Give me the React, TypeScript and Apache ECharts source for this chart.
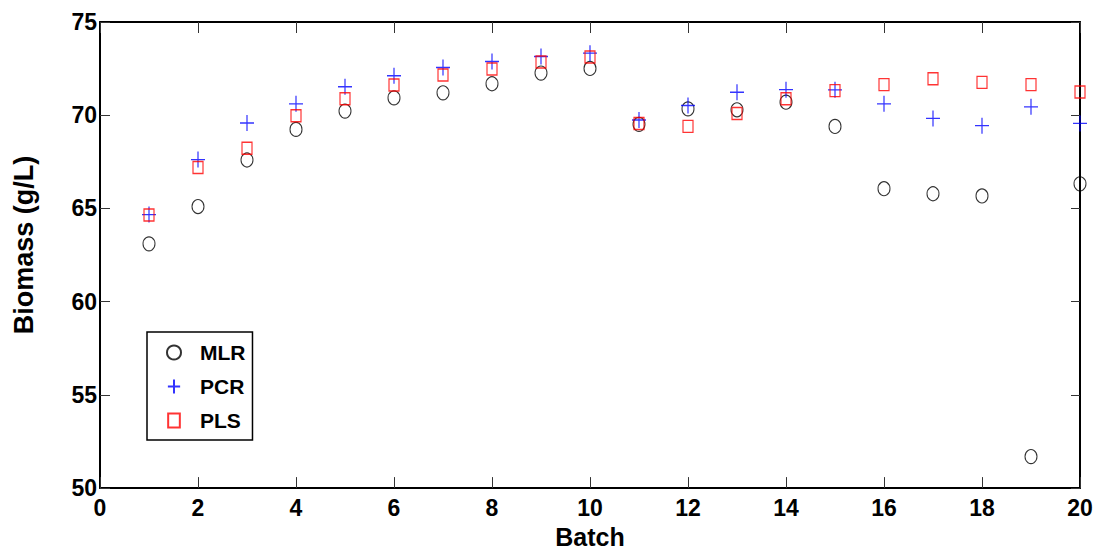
import { useEffect, useRef } from 'react';
import * as echarts from 'echarts';

const batches = [1, 2, 3, 4, 5, 6, 7, 8, 9, 10, 11, 12, 13, 14, 15, 16, 17, 18, 19, 20];
const mlr = [63.1, 65.1, 67.6, 69.24, 70.22, 70.93, 71.2, 71.69, 72.26, 72.51, 69.51, 70.34, 70.29, 70.7, 69.4, 66.06, 65.79, 65.67, 51.69, 66.32];
const pcr = [64.67, 67.62, 69.58, 70.61, 71.53, 72.12, 72.56, 72.88, 73.15, 73.33, 69.74, 70.52, 71.23, 71.37, 71.36, 70.61, 69.83, 69.44, 70.45, 69.56];
const pls = [64.65, 67.2, 68.23, 69.97, 70.88, 71.62, 72.16, 72.48, 72.85, 73.12, 69.56, 69.4, 70.09, 70.88, 71.32, 71.64, 71.96, 71.76, 71.64, 71.25];
const seriesNames = ['MLR', 'PCR', 'PLS'];

const FONT = "'Liberation Sans', Arial, sans-serif";
const PLUS = 'path://M7,0V16M0,8H14';
const SQUARE = 'path://M0,0H10V12H0Z';

export default function App() {
  const ref = useRef<HTMLDivElement>(null);
  useEffect(() => {
    if (!ref.current) return;
    const chart = echarts.init(ref.current, undefined, { renderer: 'svg' });
    const pts = (vals: number[]) => batches.map((b, i) => [b, vals[i]]);
    const axisLine = { show: true, onZero: false, lineStyle: { color: '#000', width: 2 } };
    const tick = (len: number) => ({ show: true, inside: true, length: len, lineStyle: { color: '#333', width: 1 } });
    chart.setOption({
      animation: false,
      backgroundColor: '#fff',
      grid: { left: 100, top: 22, right: 16, bottom: 63 },
      legend: {
        orient: 'vertical',
        left: 147,
        top: 332,
        data: seriesNames,
        itemWidth: 14,
        itemHeight: 14,
        itemGap: 13,
        padding: [10, 7, 9, 19],
        borderColor: '#000',
        borderWidth: 1.5,
        backgroundColor: '#fff',
        selectedMode: false,
        textStyle: { fontFamily: FONT, fontSize: 21, fontWeight: 'bold', color: '#000', padding: [0, 0, 0, 14] },
      },
      xAxis: [
        {
          type: 'value', min: 0, max: 20, interval: 2, position: 'bottom',
          axisLine, axisTick: tick(11), splitLine: { show: false },
          axisLabel: { fontFamily: FONT, fontSize: 23, fontWeight: 'bold', color: '#000', margin: 8 },
          name: 'Batch', nameLocation: 'middle', nameGap: 35,
          nameTextStyle: { fontFamily: FONT, fontSize: 25, fontWeight: 'bold', color: '#000' },
        },
        {
          type: 'value', min: 0, max: 20, interval: 2, position: 'top',
          axisLine, axisTick: tick(11), splitLine: { show: false }, axisLabel: { show: false },
        },
      ],
      yAxis: [
        {
          type: 'value', min: 50, max: 75, interval: 5, position: 'left',
          axisLine, axisTick: tick(10), splitLine: { show: false },
          axisLabel: { fontFamily: FONT, fontSize: 23, fontWeight: 'bold', color: '#000', margin: 3 },
          name: 'Biomass (g/L)', nameLocation: 'middle', nameGap: 63, nameRotate: 90,
          nameTextStyle: { fontFamily: FONT, fontSize: 27, fontWeight: 'bold', color: '#000', padding: [0, 0, 0, 20] },
        },
        {
          type: 'value', min: 50, max: 75, interval: 5, position: 'right',
          axisLine, axisTick: tick(9), splitLine: { show: false }, axisLabel: { show: false },
        },
      ],
      series: [
        {
          name: 'MLR', type: 'scatter', data: pts(mlr), symbol: 'circle', symbolSize: [12, 14],
          itemStyle: { color: 'transparent', borderColor: '#000', borderWidth: 1.1 },
        },
        {
          name: 'PCR', type: 'scatter', data: pts(pcr), symbol: PLUS, symbolSize: [14, 16],
          itemStyle: { color: 'transparent', borderColor: '#0000ff', borderWidth: 1.3 },
        },
        {
          name: 'PLS', type: 'scatter', data: pts(pls), symbol: SQUARE, symbolSize: [10, 12],
          itemStyle: { color: 'transparent', borderColor: '#ff0000', borderWidth: 1.3 },
        },
      ],
    });
    return () => chart.dispose();
  }, []);
  return (
    <div
      ref={ref}
      style={{ position: 'fixed', left: 0, top: 0, width: 1096, height: 554, background: '#fff' }}
    />
  );
}
